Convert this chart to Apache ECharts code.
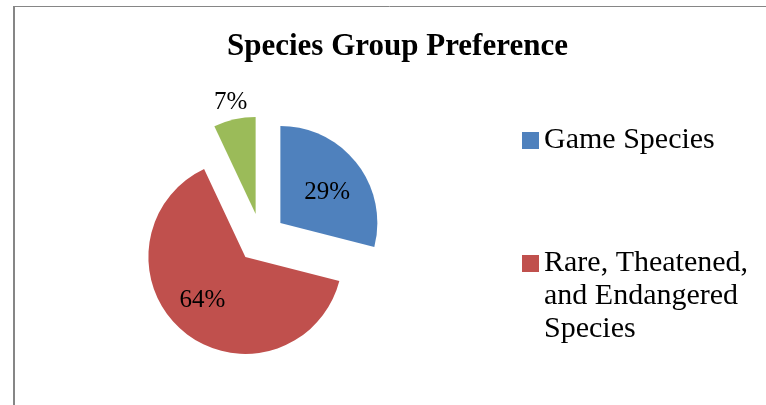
<!DOCTYPE html>
<html>
<head>
<meta charset="utf-8">
<script src="https://cdn.jsdelivr.net/npm/echarts@6/dist/echarts.min.js"></script>
<style>
  html, body { margin: 0; padding: 0; background: #fff; }
  #chart { width: 766px; height: 405px; }
</style>
</head>
<body>
<div id="chart"></div>
<script>
// Species group preference shares (percent of respondents)
const categories = ['Game Species', 'Rare, Theatened, and Endangered Species', 'Other'];
const shares = [29, 64, 7];
const sliceColors = ['#4F81BD', '#C0504D', '#9BBB59'];
const legendNames = ['Game Species', 'Rare, Theatened, and Endangered Species'];
const legendLines = {
  'Game Species': ['Game Species'],
  'Rare, Theatened, and Endangered Species': ['Rare, Theatened,', 'and Endangered', 'Species']
};

const FONT = '"Liberation Serif", "DejaVu Serif", serif';
const CENTER = [261, 238];
const EXPLODE = 24.5;
// small nudges for the in-slice percentage labels
const innerLabelNudge = [[1, 5], [-6, -1], [0, 0]];

const chart = echarts.init(document.getElementById('chart'), null, { renderer: 'canvas' });

function sliceData(opts) {
  return categories.map((name, i) => Object.assign({
    name: name,
    value: shares[i],
    selected: true
  }, opts ? opts(i) : {}));
}

const pctLabel = p => p.value + '%';

// Shared settings for every pie layer: all slices pulled out from the centre
const base = {
  type: 'pie',
  center: CENTER,
  startAngle: 90,
  clockwise: true,
  selectedMode: 'multiple',
  selectedOffset: EXPLODE,
  avoidLabelOverlap: false,
  labelLine: { show: false },
  emphasis: { disabled: true },
  animation: false
};

const option = {
  backgroundColor: '#fff',
  title: {
    text: 'Species Group Preference',
    left: 227,
    top: 26,
    padding: [5, 0, 5, 0],
    textStyle: { fontFamily: FONT, fontWeight: 'bold', fontSize: 31, color: '#000' }
  },
  legend: {
    data: legendNames,
    orient: 'vertical',
    left: 522,
    top: 124,
    height: 380,
    padding: 0,
    icon: 'rect',
    itemWidth: 17,
    itemHeight: 17,
    itemGap: 24,
    selectedMode: false,
    formatter: name => {
      const lines = legendLines[name];
      // pad with empty lines so the marker sits beside the first line
      const pad = new Array(lines.length - 1).fill('');
      return pad.concat(lines).join('\n');
    },
    textStyle: { fontFamily: FONT, fontSize: 30, lineHeight: 33, color: '#000' }
  },
  graphic: [
    { type: 'line', shape: { x1: 14, y1: 6, x2: 14, y2: 405 }, style: { stroke: '#868686', lineWidth: 2 }, silent: true },
    { type: 'line', shape: { x1: 13, y1: 6.5, x2: 766, y2: 6.5 }, style: { stroke: '#868686', lineWidth: 1 }, silent: true }
  ],
  series: [
    // visible slices
    Object.assign({}, base, {
      name: 'Species Group Preference',
      radius: 97,
      label: { show: false },
      itemStyle: { borderWidth: 0 },
      color: sliceColors,
      data: sliceData(i => ({ itemStyle: { color: sliceColors[i] } }))
    }),
    // percentage labels placed inside the two large slices
    Object.assign({}, base, {
      name: 'inner-labels',
      radius: 110,
      silent: true,
      itemStyle: { color: 'rgba(0,0,0,0)' },
      label: { show: true, position: 'inside', formatter: pctLabel,
               fontFamily: FONT, fontSize: 25, color: '#000' },
      labelLayout: p => ({ dx: innerLabelNudge[p.dataIndex][0], dy: innerLabelNudge[p.dataIndex][1] }),
      data: sliceData(i => ({ label: { show: i < 2 } }))
    }),
    // percentage label just beyond the small slice
    Object.assign({}, base, {
      name: 'outer-labels',
      radius: [100, 123],
      silent: true,
      itemStyle: { color: 'rgba(0,0,0,0)' },
      label: { show: true, position: 'inside', formatter: pctLabel,
               fontFamily: FONT, fontSize: 25, color: '#000' },
      data: sliceData(i => ({ label: { show: i === 2 } }))
    })
  ]
};

chart.setOption(option);
</script>
</body>
</html>
